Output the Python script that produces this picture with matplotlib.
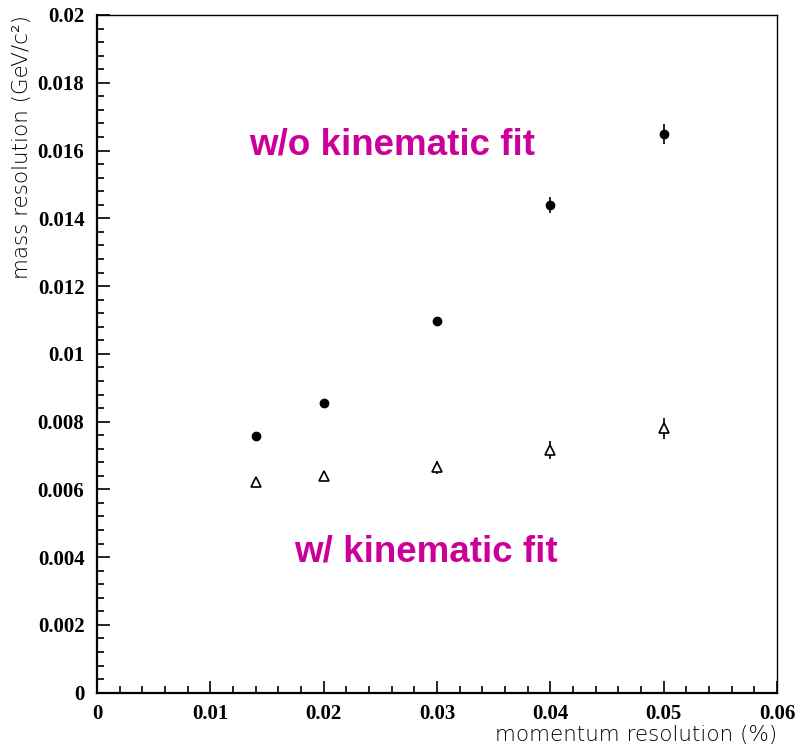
import matplotlib
matplotlib.use("Agg")
import matplotlib.pyplot as plt
from matplotlib.ticker import MultipleLocator

# data
mom_res = [0.014, 0.02, 0.03, 0.04, 0.05]
mass_wo = [0.00757, 0.00855, 0.01096, 0.01440, 0.01648]
err_wo = [0.00008, 0.00008, 0.0001, 0.00023, 0.0003]
mass_w = [0.00622, 0.00639, 0.00665, 0.00716, 0.00780]
err_w = [0.00008, 0.0001, 0.0002, 0.00027, 0.0003]

fig = plt.figure(figsize=(7.99, 7.48), dpi=100)
ax = fig.add_axes([97/799, 1-692.7/748, 680/799, (692.7-15)/748])

ax.errorbar(mom_res, mass_wo, yerr=err_wo, fmt='o', color='black',
            markersize=6, elinewidth=1.2, capsize=0)
ax.errorbar(mom_res, mass_w, yerr=err_w, fmt='^', color='black',
            markerfacecolor='white', markeredgewidth=1.2, markersize=6.5,
            elinewidth=1.2, capsize=0)

ax.set_xlim(0, 0.06)
ax.set_ylim(0, 0.02)
ax.xaxis.set_minor_locator(MultipleLocator(0.002))
ax.yaxis.set_minor_locator(MultipleLocator(0.0004))
ax.set_xticks([0, 0.01, 0.02, 0.03, 0.04, 0.05, 0.06])
ax.set_xticklabels(['0', '0.01', '0.02', '0.03', '0.04', '0.05', '0.06'])
ax.set_yticks([0, 0.002, 0.004, 0.006, 0.008, 0.01, 0.012, 0.014, 0.016, 0.018, 0.02])
ax.set_yticklabels(['0', '0.002', '0.004', '0.006', '0.008', '0.01', '0.012',
                    '0.014', '0.016', '0.018', '0.02'])

ax.tick_params(which='both', direction='in', top=False, right=False, width=1.2)
ax.tick_params(which='major', length=9)
ax.tick_params(which='minor', length=5)
ax.tick_params(axis='x', which='major', pad=8)
ax.tick_params(axis='y', which='major', pad=9)
for lab in ax.get_xticklabels() + ax.get_yticklabels():
    lab.set_fontfamily('Liberation Serif')
    lab.set_fontweight('bold')
    lab.set_fontsize(15)

for s in ['left', 'bottom']:
    ax.spines[s].set_linewidth(1.6)
for s in ['top', 'right']:
    ax.spines[s].set_linewidth(1.0)

ax.set_xlabel('momentum resolution (%)', fontsize=15.5, fontweight='light',
              family='DejaVu Sans', loc='right', labelpad=1)
ax.set_ylabel('mass resolution (GeV/c²)', fontsize=15.5, fontweight='light',
              family='DejaVu Sans', loc='top', labelpad=4)

ax.text(0.026, 0.01616, 'w/o kinematic fit', color='#cc0099', fontsize=26.5,
        fontweight='bold', family='Liberation Sans', ha='center', va='center')
ax.text(0.029, 0.00415, 'w/ kinematic fit', color='#cc0099', fontsize=26.5,
        fontweight='bold', family='Liberation Sans', ha='center', va='center')

fig.savefig('out.png', dpi=100)
